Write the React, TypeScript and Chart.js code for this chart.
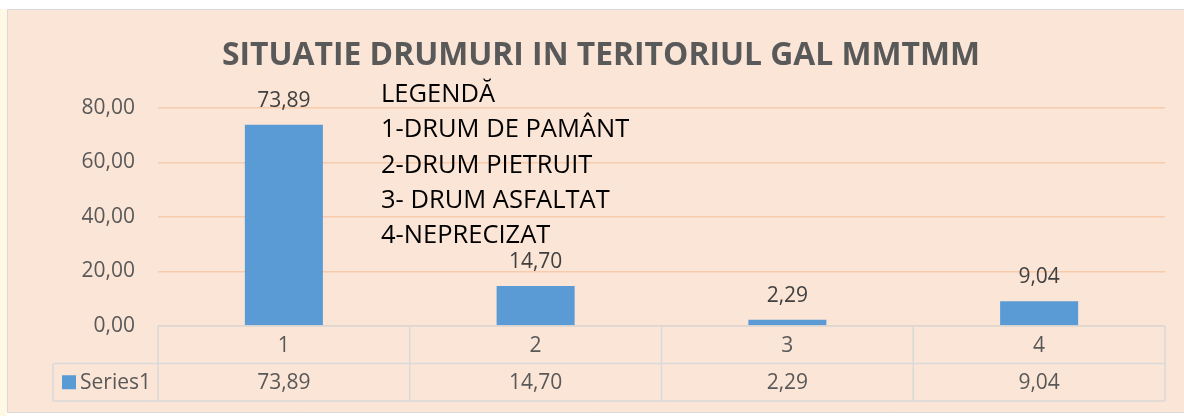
import React, { useEffect, useRef } from "react";
import { Chart, registerables } from "chart.js";

Chart.register(...registerables);

const titleText = "SITUATIE DRUMURI IN TERITORIUL GAL MMTMM";
const categories = ["1", "2", "3", "4"];
const seriesName = "Series1";
const values = [73.89, 14.7, 2.29, 9.04];
const yMin = 0;
const yMax = 80;
const yStep = 20;
const legendLines = [
  "LEGENDĂ",
  "1-DRUM DE PAMÂNT",
  "2-DRUM PIETRUIT",
  "3- DRUM ASFALTAT",
  "4-NEPRECIZAT",
];

const FONT = "'Open Sans', 'Noto Sans', sans-serif";
const fmt = (v: number) => v.toFixed(2).replace(".", ",");

const decorPlugin = {
  id: "decor",
  beforeDraw(chart: any) {
    const ctx = chart.ctx;
    const W = chart.width;
    const H = chart.height;
    ctx.save();
    ctx.fillStyle = "#FFFFFF";
    ctx.fillRect(0, 0, W, H);
    ctx.fillStyle = "#FFF8E4";
    ctx.fillRect(0, 9, 7, H - 5);
    ctx.fillStyle = "#FBE5D6";
    ctx.fillRect(7.5, 9.5, W - 7.5, 403);
    ctx.strokeStyle = "#D9D9D9";
    ctx.lineWidth = 1;
    ctx.beginPath();
    ctx.moveTo(W, 9.5);
    ctx.lineTo(7.5, 9.5);
    ctx.lineTo(7.5, 412.5);
    ctx.lineTo(W, 412.5);
    ctx.stroke();
    ctx.restore();
  },
  afterDraw(chart: any) {
    const ctx = chart.ctx;
    const area = chart.chartArea;
    const xs = chart.scales.x;
    const meta = chart.getDatasetMeta(0);
    ctx.save();

    // data labels
    ctx.font = `21px ${FONT}`;
    ctx.fillStyle = "#404040";
    ctx.textAlign = "center";
    ctx.textBaseline = "alphabetic";
    meta.data.forEach((bar: any, i: number) => {
      ctx.fillText(fmt(values[i]), bar.x, bar.y - 18);
    });

    // data table
    const top = area.bottom;
    const rowH = 37.5;
    const r1 = top + rowH;
    const r2 = r1 + rowH;
    const left = area.left;
    const right = area.right;
    const labelLeft = 53;
    const bounds: number[] = [left];
    for (let i = 0; i < categories.length - 1; i++) {
      bounds.push((xs.getPixelForValue(i) + xs.getPixelForValue(i + 1)) / 2);
    }
    bounds.push(right);
    ctx.strokeStyle = "#D9D9D9";
    ctx.lineWidth = 1.5;
    ctx.beginPath();
    ctx.moveTo(left, top);
    ctx.lineTo(right, top);
    ctx.moveTo(labelLeft, r1);
    ctx.lineTo(right, r1);
    ctx.moveTo(labelLeft, r2);
    ctx.lineTo(right, r2);
    ctx.moveTo(labelLeft, r1);
    ctx.lineTo(labelLeft, r2);
    bounds.forEach((b) => {
      ctx.moveTo(b, top);
      ctx.lineTo(b, r2);
    });
    ctx.stroke();

    ctx.fillStyle = "#595959";
    ctx.font = `21px ${FONT}`;
    ctx.textAlign = "center";
    ctx.textBaseline = "middle";
    categories.forEach((c, i) => {
      const cx = xs.getPixelForValue(i);
      ctx.fillText(c, cx, (top + r1) / 2 + 1);
      ctx.fillText(fmt(values[i]), cx, (r1 + r2) / 2 + 1);
    });
    ctx.fillStyle = "#5B9BD5";
    ctx.fillRect(62, (r1 + r2) / 2 - 7, 14, 14);
    ctx.fillStyle = "#595959";
    ctx.textAlign = "left";
    ctx.fillText(seriesName, 80, (r1 + r2) / 2 + 1);

    // title
    ctx.font = `bold 32px ${FONT}`;
    ctx.fillStyle = "#595959";
    ctx.textAlign = "center";
    ctx.textBaseline = "alphabetic";
    const tw = ctx.measureText(titleText).width;
    const target = 758;
    const sx = Math.min(1, target / tw);
    ctx.save();
    ctx.translate(601, 65);
    ctx.scale(sx, 1);
    ctx.fillText(titleText, 0, 0);
    ctx.restore();

    // legend text overlay
    ctx.font = `25.5px ${FONT}`;
    ctx.fillStyle = "#000000";
    ctx.textAlign = "left";
    legendLines.forEach((t, i) => {
      ctx.fillText(t, 381, 102 + i * 35.3);
    });

    ctx.restore();
  },
};

export default function App() {
  const ref = useRef<HTMLCanvasElement | null>(null);
  useEffect(() => {
    if (!ref.current) return;
    const chart = new Chart(ref.current, {
      type: "bar",
      data: {
        labels: categories,
        datasets: [
          {
            label: seriesName,
            data: values,
            backgroundColor: "#5B9BD5",
            borderWidth: 0,
            categoryPercentage: 1,
            barPercentage: 0.31,
          },
        ],
      },
      options: {
        animation: false,
        responsive: false,
        maintainAspectRatio: false,
        layout: { padding: { left: 0, right: 19, top: 108, bottom: 90 } },
        plugins: {
          legend: { display: false },
          tooltip: { enabled: false },
          title: { display: false },
        },
        scales: {
          x: { display: false },
          y: {
            min: yMin,
            max: yMax,
            afterFit: (s: any) => {
              s.width = 158;
            },
            border: { display: false },
            grid: { color: "#F8CBAD", lineWidth: 1.5, drawTicks: false },
            ticks: {
              stepSize: yStep,
              padding: 23,
              color: "#595959",
              font: { family: FONT, size: 21 },
              callback: (v: any) => fmt(Number(v)),
            },
          },
        },
      },
      plugins: [decorPlugin],
    });
    return () => chart.destroy();
  }, []);
  return (
    <div style={{ position: "fixed", left: 0, top: 0, width: 1184, height: 416 }}>
      <canvas ref={ref} width={1184} height={416} style={{ display: "block" }} />
    </div>
  );
}
